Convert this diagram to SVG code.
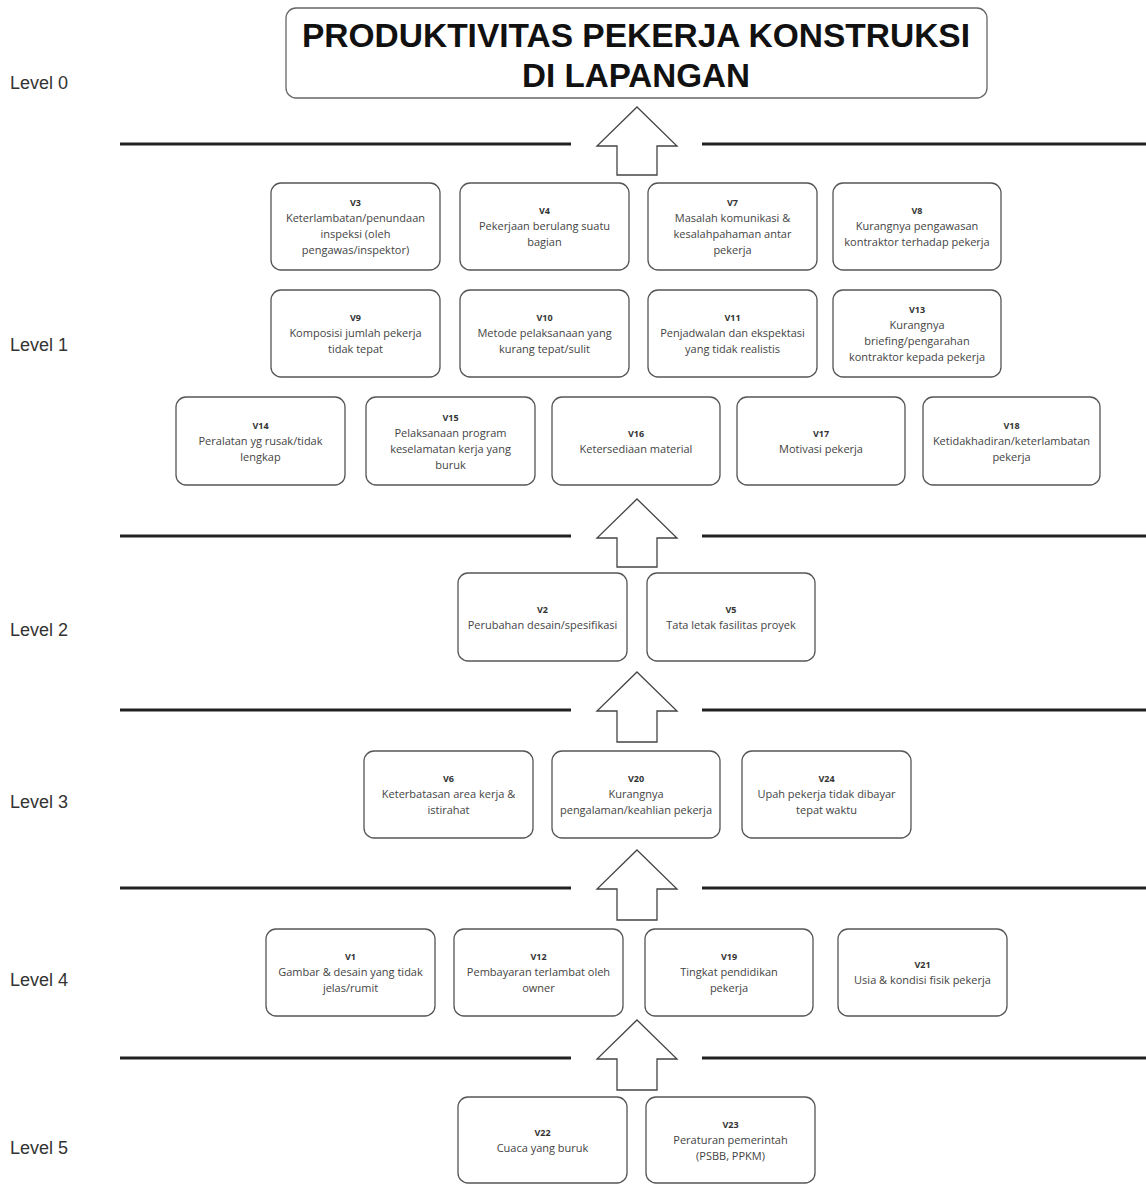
<svg xmlns="http://www.w3.org/2000/svg" width="1146" height="1184" viewBox="0 0 1146 1184">
<style>
.bg{fill:#ffffff}
.box{fill:#ffffff;stroke:#555555;stroke-width:1.3}
.title{fill:#ffffff;stroke:#666666;stroke-width:1.3}
.tt{font-family:"Liberation Sans",Arial,sans-serif;font-weight:bold;font-size:34px;fill:#111111;text-anchor:middle}
.lvl{font-family:"Liberation Sans",Arial,sans-serif;font-size:18px;fill:#333333}
.t{font-family:"Open Sans","DejaVu Sans",sans-serif;font-size:11px;fill:#444444;text-anchor:middle}
.v{font-family:"Open Sans","DejaVu Sans",sans-serif;font-size:9px;font-weight:bold;fill:#333333;text-anchor:middle}
.sep{stroke:#222222;stroke-width:3}
.arr{fill:#ffffff;stroke:#444444;stroke-width:1.3;stroke-linejoin:miter}
</style>
<rect class="bg" x="0" y="0" width="1146" height="1184"/>

<g id="levels">
<text class="lvl" x="10" y="89">Level 0</text>
<text class="lvl" x="10" y="351">Level 1</text>
<text class="lvl" x="10" y="636">Level 2</text>
<text class="lvl" x="10" y="808">Level 3</text>
<text class="lvl" x="10" y="986">Level 4</text>
<text class="lvl" x="10" y="1154">Level 5</text>
</g>

<g id="separators">
<line class="sep" x1="120" y1="144" x2="571" y2="144"/><line class="sep" x1="702" y1="144" x2="1146" y2="144"/>
<line class="sep" x1="120" y1="536" x2="571" y2="536"/><line class="sep" x1="702" y1="536" x2="1146" y2="536"/>
<line class="sep" x1="120" y1="710" x2="571" y2="710"/><line class="sep" x1="702" y1="710" x2="1146" y2="710"/>
<line class="sep" x1="120" y1="888" x2="571" y2="888"/><line class="sep" x1="702" y1="888" x2="1146" y2="888"/>
<line class="sep" x1="120" y1="1058" x2="571" y2="1058"/><line class="sep" x1="702" y1="1058" x2="1146" y2="1058"/>
</g>

<g id="connectors">
<polygon class="arr" points="637,107 677,146 657,146 657,175 617,175 617,146 597,146"/>
<polygon class="arr" points="637,499 677,538 657,538 657,567 617,567 617,538 597,538"/>
<polygon class="arr" points="637,672 677,711 657,711 657,742 617,742 617,711 597,711"/>
<polygon class="arr" points="637,850 677,889 657,889 657,920 617,920 617,889 597,889"/>
<polygon class="arr" points="637,1020 677,1059 657,1059 657,1090 617,1090 617,1059 597,1059"/>
</g>

<g id="level0">
<rect class="title" x="286" y="8" width="701" height="90" rx="10"/>
<text class="tt" x="636" y="47" textLength="668" lengthAdjust="spacingAndGlyphs">PRODUKTIVITAS PEKERJA KONSTRUKSI</text>
<text class="tt" x="636" y="87" textLength="228" lengthAdjust="spacingAndGlyphs">DI LAPANGAN</text>
</g>

<g id="V3"><rect class="box" x="271" y="183" width="169" height="87" rx="10"/>
<text class="v" x="355.5" y="206">V3</text><text class="t" x="355.5" y="222">Keterlambatan/penundaan</text><text class="t" x="355.5" y="238">inspeksi (oleh</text><text class="t" x="355.5" y="254">pengawas/inspektor)</text></g>
<g id="V4"><rect class="box" x="460" y="183" width="169" height="87" rx="10"/>
<text class="v" x="544.5" y="214">V4</text><text class="t" x="544.5" y="230">Pekerjaan berulang suatu</text><text class="t" x="544.5" y="246">bagian</text></g>
<g id="V7"><rect class="box" x="648" y="183" width="169" height="87" rx="10"/>
<text class="v" x="732.5" y="206">V7</text><text class="t" x="732.5" y="222">Masalah komunikasi &amp;</text><text class="t" x="732.5" y="238">kesalahpahaman antar</text><text class="t" x="732.5" y="254">pekerja</text></g>
<g id="V8"><rect class="box" x="833" y="183" width="168" height="87" rx="10"/>
<text class="v" x="917" y="214">V8</text><text class="t" x="917" y="230">Kurangnya pengawasan</text><text class="t" x="917" y="246">kontraktor terhadap pekerja</text></g>

<g id="V9"><rect class="box" x="271" y="290" width="169" height="87" rx="10"/>
<text class="v" x="355.5" y="321">V9</text><text class="t" x="355.5" y="337">Komposisi jumlah pekerja</text><text class="t" x="355.5" y="353">tidak tepat</text></g>
<g id="V10"><rect class="box" x="460" y="290" width="169" height="87" rx="10"/>
<text class="v" x="544.5" y="321">V10</text><text class="t" x="544.5" y="337">Metode pelaksanaan yang</text><text class="t" x="544.5" y="353">kurang tepat/sulit</text></g>
<g id="V11"><rect class="box" x="648" y="290" width="169" height="87" rx="10"/>
<text class="v" x="732.5" y="321">V11</text><text class="t" x="732.5" y="337">Penjadwalan dan ekspektasi</text><text class="t" x="732.5" y="353">yang tidak realistis</text></g>
<g id="V13"><rect class="box" x="833" y="290" width="168" height="87" rx="10"/>
<text class="v" x="917" y="313">V13</text><text class="t" x="917" y="329">Kurangnya</text><text class="t" x="917" y="345">briefing/pengarahan</text><text class="t" x="917" y="361">kontraktor kepada pekerja</text></g>

<g id="V14"><rect class="box" x="176" y="397" width="169" height="88" rx="10"/>
<text class="v" x="260.5" y="429">V14</text><text class="t" x="260.5" y="445">Peralatan yg rusak/tidak</text><text class="t" x="260.5" y="461">lengkap</text></g>
<g id="V15"><rect class="box" x="366" y="397" width="169" height="88" rx="10"/>
<text class="v" x="450.5" y="421">V15</text><text class="t" x="450.5" y="437">Pelaksanaan program</text><text class="t" x="450.5" y="453">keselamatan kerja yang</text><text class="t" x="450.5" y="469">buruk</text></g>
<g id="V16"><rect class="box" x="552" y="397" width="168" height="88" rx="10"/>
<text class="v" x="636" y="437">V16</text><text class="t" x="636" y="453">Ketersediaan material</text></g>
<g id="V17"><rect class="box" x="737" y="397" width="168" height="88" rx="10"/>
<text class="v" x="821" y="437">V17</text><text class="t" x="821" y="453">Motivasi pekerja</text></g>
<g id="V18"><rect class="box" x="923" y="397" width="177" height="88" rx="10"/>
<text class="v" x="1011.5" y="429">V18</text><text class="t" x="1011.5" y="445">Ketidakhadiran/keterlambatan</text><text class="t" x="1011.5" y="461">pekerja</text></g>

<g id="V2"><rect class="box" x="458" y="573" width="169" height="88" rx="10"/>
<text class="v" x="542.5" y="613">V2</text><text class="t" x="542.5" y="629">Perubahan desain/spesifikasi</text></g>
<g id="V5"><rect class="box" x="647" y="573" width="168" height="88" rx="10"/>
<text class="v" x="731" y="613">V5</text><text class="t" x="731" y="629">Tata letak fasilitas proyek</text></g>

<g id="V6"><rect class="box" x="364" y="751" width="169" height="87" rx="10"/>
<text class="v" x="448.5" y="782">V6</text><text class="t" x="448.5" y="798">Keterbatasan area kerja &amp;</text><text class="t" x="448.5" y="814">istirahat</text></g>
<g id="V20"><rect class="box" x="552" y="751" width="168" height="87" rx="10"/>
<text class="v" x="636" y="782">V20</text><text class="t" x="636" y="798">Kurangnya</text><text class="t" x="636" y="814">pengalaman/keahlian pekerja</text></g>
<g id="V24"><rect class="box" x="742" y="751" width="169" height="87" rx="10"/>
<text class="v" x="826.5" y="782">V24</text><text class="t" x="826.5" y="798">Upah pekerja tidak dibayar</text><text class="t" x="826.5" y="814">tepat waktu</text></g>

<g id="V1"><rect class="box" x="266" y="929" width="169" height="87" rx="10"/>
<text class="v" x="350.5" y="960">V1</text><text class="t" x="350.5" y="976">Gambar &amp; desain yang tidak</text><text class="t" x="350.5" y="992">jelas/rumit</text></g>
<g id="V12"><rect class="box" x="454" y="929" width="169" height="87" rx="10"/>
<text class="v" x="538.5" y="960">V12</text><text class="t" x="538.5" y="976">Pembayaran terlambat oleh</text><text class="t" x="538.5" y="992">owner</text></g>
<g id="V19"><rect class="box" x="645" y="929" width="168" height="87" rx="10"/>
<text class="v" x="729" y="960">V19</text><text class="t" x="729" y="976">Tingkat pendidikan</text><text class="t" x="729" y="992">pekerja</text></g>
<g id="V21"><rect class="box" x="838" y="929" width="169" height="87" rx="10"/>
<text class="v" x="922.5" y="968">V21</text><text class="t" x="922.5" y="984">Usia &amp; kondisi fisik pekerja</text></g>

<g id="V22"><rect class="box" x="458" y="1097" width="169" height="86" rx="10"/>
<text class="v" x="542.5" y="1136">V22</text><text class="t" x="542.5" y="1152">Cuaca yang buruk</text></g>
<g id="V23"><rect class="box" x="646" y="1097" width="169" height="86" rx="10"/>
<text class="v" x="730.5" y="1128">V23</text><text class="t" x="730.5" y="1144">Peraturan pemerintah</text><text class="t" x="730.5" y="1160">(PSBB, PPKM)</text></g>
</svg>
